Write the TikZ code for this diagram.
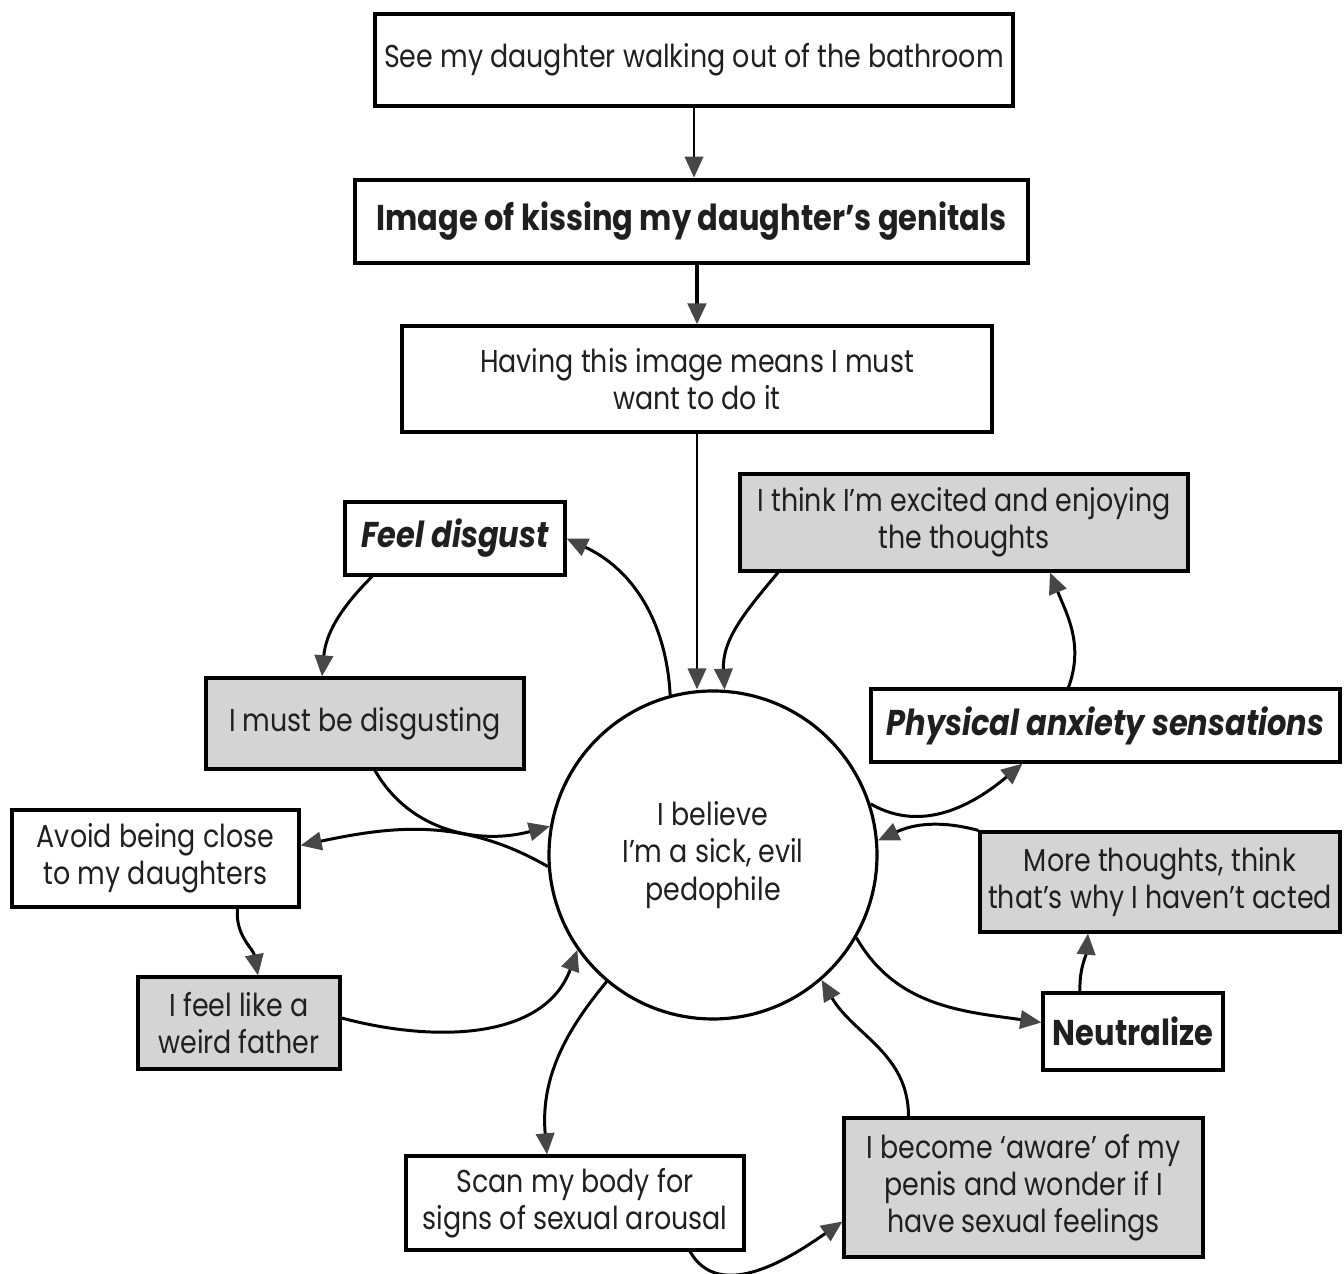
\documentclass[tikz,border=0pt]{standalone}
\usepackage{fontspec}
\setmainfont[FakeStretch=0.85]{Poppins}
\usetikzlibrary{arrows.meta,calc}

\begin{document}
\begin{tikzpicture}[
    box/.style={draw, line width=0.9pt, rectangle, align=center, inner sep=0, text=black!88, font=\fontsize{9}{10.6}\selectfont},
    greybox/.style={box, fill=black!17},
    heavy/.style={box, line width=1.3pt, font=\fontsize{10.2}{12}\selectfont\bfseries},
    core/.style={draw, circle, line width=0.9pt, align=center, inner sep=0, minimum size=3.28cm, text=black!88, font=\fontsize{9}{10.6}\selectfont},
    link/.style={draw, line width=0.85pt, -{Triangle[length=6pt, width=5.2pt, color=black!72]}}]

\useasboundingbox (0,0) rectangle (13.44,-12.74);

\node[box, minimum width=6.38cm, minimum height=0.92cm] (top) at (6.94,-0.60) {See my daughter walking out of the bathroom};
\node[heavy, minimum width=6.73cm, minimum height=0.83cm] (img) at (6.915,-2.215) {Image of kissing my daughter’s genitals};
\node[box, minimum width=5.90cm, minimum height=1.06cm] (mean) at (6.97,-3.79) {Having this image means I must\\want to do it};
\node[core] (bel) at (7.13,-8.55) {I believe\\I’m a sick, evil\\pedophile};

\node[box, minimum width=2.20cm, minimum height=0.73cm, font=\fontsize{10.2}{12}\selectfont\bfseries\itshape] (feel) at (4.55,-5.385) {Feel disgust};
\node[greybox, minimum width=3.18cm, minimum height=0.91cm] (must) at (3.65,-7.235) {I must be disgusting};
\node[box, minimum width=2.87cm, minimum height=0.97cm] (avoid) at (1.555,-8.585) {Avoid being close\\to my daughters};
\node[greybox, minimum width=2.02cm, minimum height=0.92cm] (weird) at (2.39,-10.23) {I feel like a\\weird father};
\node[box, minimum width=3.38cm, minimum height=0.94cm] (scan) at (5.75,-12.03) {Scan my body for\\signs of sexual arousal};
\node[greybox, minimum width=3.59cm, minimum height=1.39cm] (aware) at (10.235,-11.875) {I become ‘aware’ of my\\penis and wonder if I\\have sexual feelings};
\node[box, minimum width=1.80cm, minimum height=0.77cm, font=\fontsize{10.2}{12}\selectfont\bfseries] (neut) at (11.33,-10.315) {Neutralize};
\node[greybox, minimum width=3.60cm, minimum height=1.00cm] (more) at (11.60,-8.82) {More thoughts, think\\that’s why I haven’t acted};
\node[box, minimum width=4.69cm, minimum height=0.73cm, font=\fontsize{10.2}{12}\selectfont\bfseries\itshape] (phys) at (11.055,-7.255) {Physical anxiety sensations};
\node[greybox, minimum width=4.48cm, minimum height=0.97cm] (think) at (9.64,-5.225) {I think I’m excited and enjoying\\the thoughts};

\path[link] (top.south) -- (top.south |- img.north);
\path[link, line width=1.2pt] (mean.north |- img.south) -- (mean.north);
\path[link] (mean.south) -- (mean.south |- bel.north);

\path[link] (bel.105) to[out=93, in=-25] (feel.east);
\path[link] ([xshift=-0.83cm]feel.south) to[out=-135, in=85] ([xshift=-0.43cm]must.north);
\path[link] ([xshift=0.1cm]must.south) to[out=-60, in=195] (bel.170);
\path[link] (bel.184) to[out=150, in=12] ([yshift=0.13cm]avoid.east);
\path[link] ([xshift=0.82cm]avoid.south) to[out=-95, in=100] ([xshift=0.19cm]weird.north);
\path[link] ([yshift=0.05cm]weird.east) to[out=-15, in=250] (bel.215);
\path[link] (bel.230) to[out=230, in=95] ([xshift=-0.28cm]scan.north);
\path[link] ([xshift=1.15cm]scan.south) to[out=-60, in=215] ([yshift=-0.34cm]aware.west);
\path[link] ([xshift=-1.15cm]aware.north) to[out=90, in=-60] (bel.311);
\path[link] (bel.330) to[out=-60, in=172] ([yshift=0.09cm]neut.west);
\path[link] ([xshift=-0.53cm]neut.north) to[out=92, in=-95] ([xshift=-0.72cm]more.south);
\path[link] (more.north west) to[out=165, in=25] (bel.5);
\path[link] (bel.18) to[out=-30, in=220] ([xshift=-0.83cm]phys.south);
\path[link] ([xshift=-0.37cm]phys.north) to[out=70, in=-68] ([xshift=0.86cm]think.south);
\path[link] ([xshift=-1.86cm]think.south) to[out=-130, in=93] (bel.86);

\end{tikzpicture}
\end{document}
